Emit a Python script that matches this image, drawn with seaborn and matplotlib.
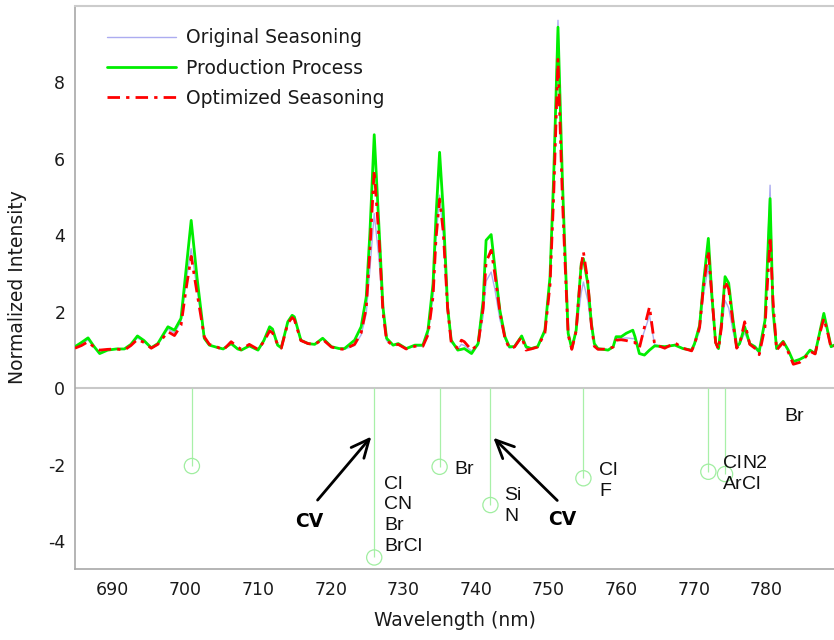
import numpy as np
import pandas as pd
import matplotlib
matplotlib.use("Agg")
import matplotlib.pyplot as plt
import seaborn as sns

# Emission spectra (normalized) for three chamber conditions
wavelength = [
    684.8, 685.7, 686.6, 687.4, 688.2, 689.3, 690.5, 691.6, 692.5, 693.4,
    694.3, 695.3, 696.2, 697.6, 698.5, 699.4, 700.1, 700.8, 701.6, 702.6,
    703.3, 704.2, 705.2, 706.3, 707.2, 707.7, 708.8, 710.0, 710.8, 711.6,
    712.0, 712.7, 713.2, 714.1, 714.7, 715.0, 715.9, 716.9, 717.8, 718.9,
    720.1, 721.2, 721.9, 723.3, 724.2, 724.9, 725.4, 726.0, 726.7, 727.2,
    727.7, 728.6, 729.3, 730.4, 731.6, 732.7, 733.4, 734.1, 734.5, 735.0,
    735.5, 736.1, 736.6, 737.5, 738.0, 738.4, 739.4, 740.3, 741.0, 741.4,
    742.1, 742.6, 743.3, 744.0, 744.6, 745.3, 746.3, 746.9, 747.6, 748.5,
    749.5, 750.2, 750.7, 751.3, 751.9, 752.2, 752.7, 753.2, 753.8, 754.5,
    754.8, 755.4, 755.9, 756.3, 756.8, 758.2, 758.9, 759.3, 760.0, 760.7,
    761.6, 761.9, 762.5, 763.2, 763.9, 764.6, 766.0, 767.4, 768.5, 769.7,
    770.1, 770.8, 771.3, 772.0, 772.5, 773.0, 773.4, 773.8, 774.3, 774.8,
    775.4, 775.9, 776.3, 777.0, 777.7, 778.4, 779.0, 779.8, 780.5, 780.9,
    781.4, 782.3, 783.0, 783.7, 784.6, 785.3, 786.0, 786.7, 787.3, 787.9,
    788.5, 788.9, 789.3,
]

production = [
    1.09, 1.20, 1.32, 1.10, 0.91, 1.00, 1.03, 1.03, 1.15, 1.37,
    1.25, 1.06, 1.17, 1.61, 1.52, 1.83, 3.10, 4.39, 2.90, 1.31,
    1.13, 1.08, 1.03, 1.17, 1.03, 1.00, 1.11, 1.00, 1.25, 1.61,
    1.55, 1.13, 1.06, 1.74, 1.91, 1.87, 1.26, 1.17, 1.15, 1.31,
    1.09, 1.04, 1.04, 1.26, 1.61, 2.39, 4.05, 6.63, 4.05, 2.13,
    1.31, 1.13, 1.17, 1.04, 1.13, 1.13, 1.52, 2.74, 4.48, 6.17,
    4.66, 2.13, 1.26, 1.00, 1.02, 1.04, 0.91, 1.17, 2.30, 3.87,
    4.02, 3.17, 2.04, 1.35, 1.09, 1.09, 1.37, 1.09, 1.04, 1.09,
    1.52, 2.91, 5.50, 9.44, 5.50, 3.87, 1.44, 1.04, 1.52, 3.26,
    3.39, 2.74, 1.70, 1.17, 1.04, 1.00, 1.09, 1.35, 1.35, 1.44,
    1.52, 1.35, 0.91, 0.87, 1.00, 1.11, 1.09, 1.13, 1.04, 1.00,
    1.17, 1.65, 2.70, 3.92, 2.40, 1.20, 1.04, 1.70, 2.92, 2.75,
    1.78, 1.09, 1.17, 1.61, 1.17, 1.09, 0.96, 1.78, 4.96, 2.04,
    1.04, 1.23, 1.00, 0.70, 0.76, 0.83, 1.00, 0.91, 1.44, 1.96,
    1.44, 1.09, 1.13,
]

optimized = [
    1.05, 1.12, 1.22, 1.08, 1.00, 1.02, 1.03, 1.00, 1.12, 1.28,
    1.20, 1.05, 1.15, 1.48, 1.38, 1.65, 2.60, 3.45, 2.50, 1.35,
    1.15, 1.10, 1.00, 1.22, 1.08, 1.02, 1.15, 1.02, 1.22, 1.50,
    1.45, 1.15, 1.05, 1.70, 1.85, 1.80, 1.25, 1.17, 1.15, 1.28,
    1.08, 1.03, 1.02, 1.15, 1.45, 2.10, 3.60, 5.70, 3.80, 2.00,
    1.25, 1.12, 1.15, 1.03, 1.10, 1.10, 1.40, 2.40, 3.90, 4.95,
    4.10, 2.10, 1.20, 1.05, 1.26, 1.22, 1.00, 1.15, 2.10, 3.30,
    3.61, 3.00, 2.00, 1.30, 1.05, 1.08, 1.35, 1.00, 1.03, 1.08,
    1.45, 2.70, 5.00, 8.60, 5.00, 3.60, 1.40, 1.02, 1.50, 3.20,
    3.57, 2.80, 1.65, 1.10, 1.02, 1.03, 1.08, 1.26, 1.27, 1.25,
    1.20, 1.20, 1.05, 1.60, 2.13, 1.15, 1.05, 1.19, 1.05, 0.98,
    1.15, 1.60, 2.60, 3.60, 2.40, 1.20, 1.02, 1.60, 2.80, 2.60,
    1.70, 1.05, 1.15, 1.74, 1.15, 1.05, 0.88, 1.60, 3.96, 2.30,
    1.00, 1.20, 0.95, 0.63, 0.68, 0.80, 0.97, 0.90, 1.40, 1.83,
    1.40, 1.05, 1.10,
]

original = [
    1.07, 1.15, 1.27, 1.08, 0.95, 1.00, 1.03, 1.02, 1.13, 1.32,
    1.22, 1.05, 1.15, 1.55, 1.45, 1.75, 2.80, 3.65, 2.60, 1.30,
    1.13, 1.08, 1.02, 1.19, 1.05, 1.00, 1.12, 1.00, 1.22, 1.55,
    1.50, 1.13, 1.05, 1.72, 1.88, 1.85, 1.25, 1.17, 1.15, 1.30,
    1.08, 1.03, 1.02, 1.12, 1.40, 1.95, 3.10, 4.57, 3.30, 1.90,
    1.25, 1.12, 1.15, 1.03, 1.10, 1.10, 1.40, 2.40, 3.90, 5.05,
    4.00, 2.00, 1.20, 1.03, 1.15, 1.12, 0.98, 1.12, 1.90, 2.80,
    3.04, 2.60, 1.80, 1.30, 1.05, 1.08, 1.33, 1.05, 1.03, 1.08,
    1.45, 2.80, 5.60, 9.62, 5.40, 3.70, 1.40, 1.02, 1.45, 2.50,
    2.78, 2.30, 1.55, 1.12, 1.02, 1.00, 1.08, 1.30, 1.30, 1.32,
    1.30, 1.30, 1.10, 1.50, 1.90, 1.15, 1.07, 1.15, 1.05, 0.98,
    1.12, 1.50, 2.40, 3.20, 2.20, 1.20, 1.02, 1.50, 2.30, 2.10,
    1.50, 1.05, 1.15, 1.45, 1.15, 1.05, 0.92, 1.70, 5.31, 2.20,
    1.02, 1.20, 0.97, 0.70, 0.76, 0.82, 0.98, 0.90, 1.40, 1.85,
    1.40, 1.07, 1.10,
]

# Reference emission lines (drawn downward below zero)
line_wavelength = [700.9, 726.0, 735.0, 742.0, 754.8, 772.0, 774.3]
line_depth = [-2.03, -4.42, -2.05, -3.05, -2.35, -2.18, -2.24]

# Species identified for each line
species_labels = ["Cl\nCN\nBr\nBrCl", "Br", "Si\nN", "Cl\nF", "Cl\nAr", "N2\nCl", "Br"]

series_names = ["Original Seasoning", "Production Process", "Optimized Seasoning"]

sns.set_style("white")
plt.rcParams["font.family"] = ["DejaVu Sans"]

df = pd.DataFrame({
    "Wavelength (nm)": wavelength,
    series_names[0]: original,
    series_names[1]: production,
    series_names[2]: optimized,
})

fig = plt.figure(figsize=(8.34, 6.4), dpi=100)
ax = fig.add_axes([0.0899, 0.111, 0.9101, 0.880])

# Zero reference line
ax.axhline(0, color="#c8c8c8", lw=1.5, zorder=1)

# Reference line stems with open circle heads
ax.vlines(line_wavelength, line_depth, 0, color="#a8f0a8", lw=0.9, zorder=2)
sns.scatterplot(x=line_wavelength, y=line_depth, ax=ax, marker="o", s=120,
                facecolors="none", edgecolor="#a0eea0", linewidth=0.9,
                zorder=3, legend=False)

styles = {
    series_names[0]: dict(color="#acacf0", lw=1.0),
    series_names[1]: dict(color="#00ee00", lw=2.0),
    series_names[2]: dict(color="#ff0000", lw=2.0, dashes=(4.5, 2.2, 1.2, 2.2)),
}
for i, name in enumerate(series_names):
    st = dict(styles[name])
    dashes = st.pop("dashes", None)
    sns.lineplot(data=df, x="Wavelength (nm)", y=name, ax=ax, label=name,
                 estimator=None, sort=False, zorder=4 + i, **st)
    if dashes is not None:
        ax.lines[-1].set_dashes(dashes)

# Species annotations
label_font = dict(family=["Liberation Sans", "DejaVu Sans"], fontsize=14,
                  color="#111111", linespacing=1.3)
label_pos = [(727.4, -3.32), (737.0, -2.11), (743.9, -3.07), (757.0, -2.41),
             (774.0, -2.24), (776.7, -2.24), (782.5, -0.74)]
for txt, (lx, ly) in zip(species_labels, label_pos):
    ax.text(lx, ly, txt, ha="left", va="center", **label_font)

# CV arrows
for (tx, ty), (hx, hy), (cx, cy) in [
    ((718.2, -2.92), (725.6, -1.26), (717.0, -3.48)),
    ((751.2, -2.93), (742.4, -1.29), (751.9, -3.44)),
]:
    ax.annotate("", xy=(hx, hy), xytext=(tx, ty),
                arrowprops=dict(arrowstyle="->,head_length=0.65,head_width=0.3",
                                color="black", lw=2, shrinkA=0, shrinkB=0,
                                mutation_scale=20))
    ax.text(cx, cy, "CV", fontsize=13.5, fontweight="bold", ha="center",
            va="center", color="black")

ax.set_xlim(684.8, 789.3)
ax.set_ylim(-4.72, 10.0)
ax.set_xticks([690, 700, 710, 720, 730, 740, 750, 760, 770, 780])
ax.set_yticks([-4, -2, 0, 2, 4, 6, 8])
ax.set_yticklabels(["-4", "-2", "0", "2", "4", "6", "8"])
ax.tick_params(axis="both", direction="in", length=6, width=1, color="#b0b0b0",
               labelsize=12.5, labelcolor="#1a1a1a")
ax.tick_params(axis="x", pad=9)
ax.tick_params(axis="y", pad=7)
ax.set_xlabel("Wavelength (nm)", fontsize=13.5, color="#1a1a1a", labelpad=8)
ax.set_ylabel("Normalized Intensity", fontsize=13.5, color="#1a1a1a", labelpad=15)

for side in ["left", "bottom"]:
    ax.spines[side].set_color("#a8a8a8")
    ax.spines[side].set_linewidth(1.2)
ax.spines["top"].set_color("#cccccc")
ax.spines["top"].set_linewidth(1.5)
ax.spines["right"].set_visible(False)

leg = ax.legend(loc="upper left", bbox_to_anchor=(0.042, 0.96), frameon=False,
                fontsize=13.5, handlelength=3.7, handletextpad=0.5,
                labelspacing=0.6, borderpad=0, borderaxespad=0)
for t in leg.get_texts():
    t.set_color("#1a1a1a")

fig.savefig("out.png", dpi=100)
